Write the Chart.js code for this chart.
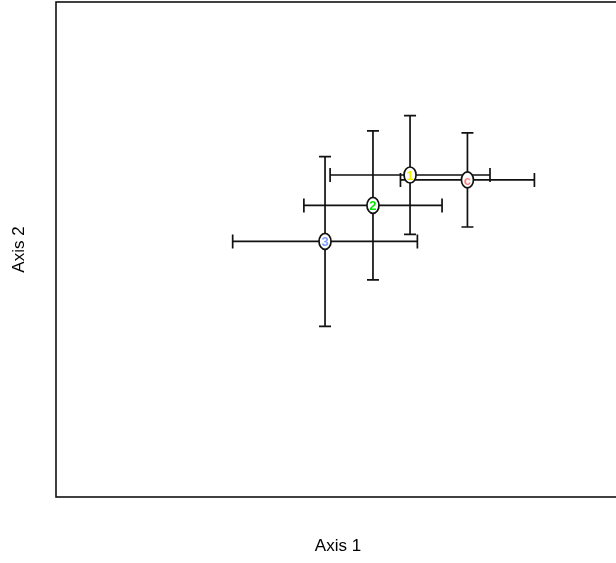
<!DOCTYPE html>
<html>
<head>
<meta charset="utf-8">
<script src="https://cdn.jsdelivr.net/npm/chart.js@4/dist/chart.umd.min.js"></script>
<style>
  html, body { margin: 0; padding: 0; background: #fff; overflow: hidden; }
  #wrap { width: 630px; height: 563px; }
</style>
</head>
<body>
<div id="wrap"><canvas id="ordination"></canvas></div>
<script>
// group scores on the first two axes, with +/- spread on each axis
const groupLabels = ['1', 'c', '2', '3'];
const axis1Score = [0.511, 0.918, 0.248, -0.092];
const axis2Score = [0.602, 0.562, 0.356, 0.065];
const axis1Err = [0.567, 0.475, 0.490, 0.655];
const axis2Err = [0.480, 0.380, 0.602, 0.686];
const labelColors = ['#f0f000', '#ff8080', '#00e600', '#7f9cff'];

const axisMin = -2;
const axisMax = 2;

const points = groupLabels.map((g, i) => ({ x: axis1Score[i], y: axis2Score[i] }));

// error bars first, then the labelled ellipses on top
const errorBars = {
  id: 'errorBars',
  beforeDatasetsDraw(chart) {
    const { ctx, scales: { x, y } } = chart;
    const capW = 6, capH = 7;
    ctx.save();
    ctx.strokeStyle = '#111';
    ctx.lineWidth = 1.7;
    groupLabels.forEach((g, i) => {
      const px = x.getPixelForValue(axis1Score[i]);
      const py = y.getPixelForValue(axis2Score[i]);
      const x0 = x.getPixelForValue(axis1Score[i] - axis1Err[i]);
      const x1 = x.getPixelForValue(axis1Score[i] + axis1Err[i]);
      const y0 = y.getPixelForValue(axis2Score[i] - axis2Err[i]);
      const y1 = y.getPixelForValue(axis2Score[i] + axis2Err[i]);
      ctx.beginPath();
      ctx.moveTo(x0, py); ctx.lineTo(x1, py);
      ctx.moveTo(x0, py - capH); ctx.lineTo(x0, py + capH);
      ctx.moveTo(x1, py - capH); ctx.lineTo(x1, py + capH);
      ctx.moveTo(px, y0); ctx.lineTo(px, y1);
      ctx.moveTo(px - capW, y0); ctx.lineTo(px + capW, y0);
      ctx.moveTo(px - capW, y1); ctx.lineTo(px + capW, y1);
      ctx.stroke();
    });
    ctx.restore();
  },
  afterDatasetsDraw(chart) {
    const { ctx } = chart;
    const meta = chart.getDatasetMeta(0);
    ctx.save();
    meta.data.forEach((pt, i) => {
      ctx.beginPath();
      ctx.ellipse(pt.x, pt.y, 6, 8, 0, 0, Math.PI * 2);
      ctx.fillStyle = '#fff';
      ctx.fill();
      ctx.strokeStyle = '#111';
      ctx.lineWidth = 1.7;
      ctx.stroke();
      ctx.fillStyle = labelColors[i];
      ctx.font = 'bold 13px "Liberation Sans", Arial, sans-serif';
      ctx.textAlign = 'center';
      ctx.textBaseline = 'middle';
      ctx.fillText(groupLabels[i], pt.x, pt.y + 1);
    });
    ctx.restore();
  },
  // plot frame on all four sides
  afterDraw(chart) {
    const { ctx, chartArea: a } = chart;
    ctx.save();
    ctx.strokeStyle = '#111';
    ctx.lineWidth = 1.6;
    ctx.strokeRect(a.left, a.top, a.right - a.left, a.bottom - a.top);
    ctx.restore();
  }
};

new Chart(document.getElementById('ordination'), {
  type: 'scatter',
  data: {
    datasets: [{
      label: 'groups',
      data: points,
      pointRadius: 0,
      pointHoverRadius: 0,
      showLine: false
    }]
  },
  options: {
    responsive: true,
    maintainAspectRatio: false,
    animation: false,
    layout: { padding: { top: 2, right: 10, bottom: 0, left: 0 } },
    plugins: { legend: { display: false }, tooltip: { enabled: false } },
    scales: {
      x: {
        min: axisMin, max: axisMax,
        grid: { display: false, drawTicks: false },
        border: { display: false },
        ticks: { display: false },
        title: {
          display: true, text: 'Axis 1', color: '#000',
          font: { family: '"Liberation Sans", Arial, sans-serif', size: 17 },
          padding: { top: 38.8, bottom: 6.8 }
        }
      },
      y: {
        min: axisMin, max: axisMax,
        grid: { display: false, drawTicks: false },
        border: { display: false },
        ticks: { display: false },
        title: {
          display: true, text: 'Axis 2', color: '#000',
          font: { family: '"Liberation Sans", Arial, sans-serif', size: 17 },
          padding: { top: 9, bottom: 26.6 }
        }
      }
    }
  },
  plugins: [errorBars]
});
</script>
</body>
</html>
